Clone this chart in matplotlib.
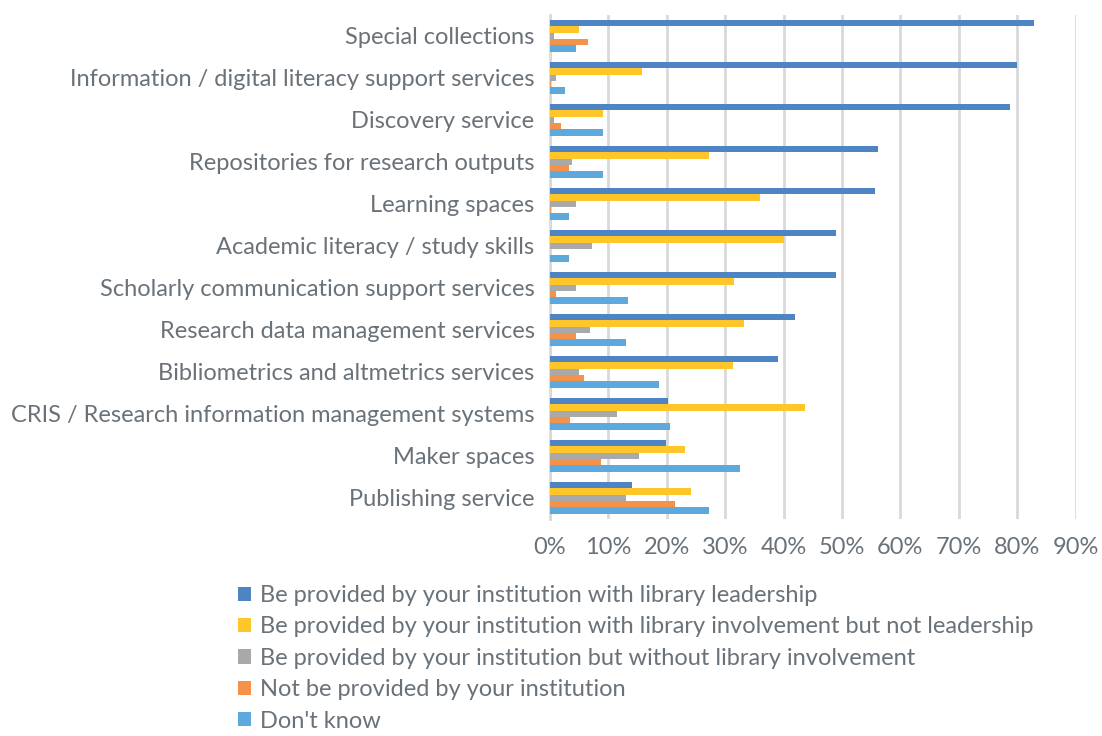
import numpy as np
import matplotlib.pyplot as plt

categories = ['Special collections',
              'Information / digital literacy support services',
              'Discovery service',
              'Repositories for research outputs',
              'Learning spaces',
              'Academic literacy / study skills',
              'Scholarly communication support services',
              'Research data management services',
              'Bibliometrics and altmetrics services',
              'CRIS / Research information management systems',
              'Maker spaces',
              'Publishing service']

# values in %
leadership = [82.9, 80.0, 78.8, 56.2, 55.6, 48.9, 48.9, 42.0, 39.0, 20.3, 19.8, 14.1]
involvement = [5.0, 15.7, 9.1, 27.2, 35.9, 40.1, 31.6, 33.3, 31.3, 43.6, 23.2, 24.1]
no_library = [0.7, 1.1, 0.7, 3.7, 4.4, 7.2, 4.4, 6.8, 4.9, 11.5, 15.3, 13.0]
not_provided = [6.5, 0.2, 1.9, 3.3, 0.2, 0.0, 1.1, 4.4, 5.8, 3.5, 8.7, 21.4]
dont_know = [4.4, 2.6, 9.1, 9.1, 3.3, 3.3, 13.3, 13.0, 18.6, 20.6, 32.5, 27.2]

series = [leadership, involvement, no_library, not_provided, dont_know]
labels = ['Be provided by your institution with library leadership',
          'Be provided by your institution with library involvement but not leadership',
          'Be provided by your institution but without library involvement',
          'Not be provided by your institution',
          "Don't know"]
colors = ['#4E84C4', '#FFC62A', '#A9A9A9', '#F4914A', '#5DA9DD']

txt = '#6A7279'
plt.rcParams['font.family'] = ['Lato', 'DejaVu Sans']

fig = plt.figure(figsize=(11.02, 7.36), dpi=100)
ax = fig.add_axes([0.499, 0.295, 0.477, 0.685])

y = np.arange(len(categories))
h = 0.152
for i, (vals, lbl, c) in enumerate(zip(series, labels, colors)):
  ax.barh(y - 2*h + i*h, np.array(vals)/100, height=h, color=c, label=lbl, zorder=3)

ax.set_ylim(len(categories) - 0.5, -0.5)
ax.set_xlim(0, 0.9)
ax.set_xticks(np.arange(0, 0.91, 0.1))
ax.set_xticklabels(['{}%'.format(v) for v in range(0, 91, 10)])
ax.set_yticks(y)
ax.set_yticklabels(categories)
ax.tick_params(axis='both', length=0, labelsize=17, colors=txt, pad=13)
ax.tick_params(axis='y', pad=11)
ax.xaxis.grid(True, color='#D9D9D9', linewidth=2, zorder=0)
for s in ['top', 'right', 'bottom']:
  ax.spines[s].set_visible(False)
ax.spines['left'].set_color('#D9D9D9')
ax.spines['left'].set_linewidth(2)

handles, lbls = ax.get_legend_handles_labels()
fig.legend(handles, lbls, loc='upper left', bbox_to_anchor=(0.207, 0.218),
           frameon=False, fontsize=17, labelcolor=txt,
           handlelength=0.55, handleheight=0.55, handletextpad=0.4,
           labelspacing=0.44, borderaxespad=0)

plt.savefig('out.png', dpi=100)
